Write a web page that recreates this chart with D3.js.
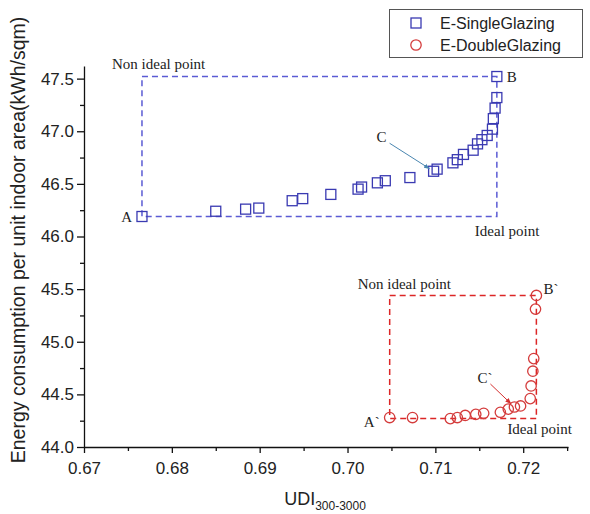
<!DOCTYPE html>
<html>
<head>
<meta charset="utf-8">
<script src="https://cdn.jsdelivr.net/npm/d3@7"></script>
<style>
  body { margin: 0; background: #fff; }
  svg { display: block; }
</style>
</head>
<body>
<svg id="chart" width="590" height="514"></svg>
<script>
// E-SingleGlazing pareto front
const singleUDI = [0.6766, 0.6850, 0.6884, 0.6899, 0.6937, 0.6949, 0.6981, 0.7012, 0.7016, 0.7034, 0.7043, 0.7071, 0.7098, 0.7102, 0.7120, 0.7125, 0.7132, 0.7143, 0.7148, 0.7153, 0.7159, 0.7165, 0.7166, 0.7168, 0.7170, 0.7170]
const singleEnergy = [46.19, 46.24, 46.26, 46.27, 46.34, 46.36, 46.40, 46.45, 46.47, 46.51, 46.53, 46.56, 46.62, 46.64, 46.70, 46.73, 46.78, 46.82, 46.88, 46.92, 46.96, 47.02, 47.12, 47.22, 47.32, 47.52]
// E-DoubleGlazing pareto front
const doubleUDI = [0.7048, 0.7074, 0.7117, 0.7125, 0.7134, 0.7146, 0.7155, 0.7174, 0.7183, 0.7190, 0.7197, 0.7208, 0.7209, 0.7211, 0.7212, 0.7214, 0.7215]
const doubleEnergy = [44.28, 44.28, 44.27, 44.28, 44.30, 44.31, 44.32, 44.33, 44.36, 44.38, 44.39, 44.46, 44.58, 44.72, 44.84, 45.31, 45.44]

const xTicks = [0.67, 0.68, 0.69, 0.70, 0.71, 0.72]
const xMinorTicks = [0.675, 0.685, 0.695, 0.705, 0.715, 0.725]
const yTicks = [44.0, 44.5, 45.0, 45.5, 46.0, 46.5, 47.0, 47.5]
const yMinorTicks = [44.25, 44.75, 45.25, 45.75, 46.25, 46.75, 47.25]

const seriesNames = ['E-SingleGlazing', 'E-DoubleGlazing']
const pointNames = [['A', 'B', 'C'], ['A`', 'B`', 'C`']]
const calloutIndex = [12, 9]

const xLabel = 'UDI'
const xLabelSub = '300-3000'
const yLabel = 'Energy consumption per unit indoor area(kWh/sqm)'

const markerColor = ['#3a3ab2', '#d43c3c']
const boxColor = ['#5b5bd4', '#dc2626']
const arrowColor = ['#4a86b0', '#d43030']
const serif = '"Liberation Serif", "Times New Roman", serif'
const sans = '"Liberation Sans", Arial, sans-serif'

const svg = d3.select('#chart')
const x = d3.scaleLinear().domain([0.67, 0.7251]).range([84, 568])
const y = d3.scaleLinear().domain([44, 47.62]).range([447, 66])

// axes
svg.append('g')
  .attr('transform', `translate(0,${y(44)})`)
  .call(d3.axisBottom(x).tickValues(xTicks).tickFormat(d3.format('.2f')).tickSize(6).tickSizeOuter(0).tickPadding(9))
svg.append('g')
  .attr('transform', `translate(0,${y(44)})`)
  .call(d3.axisBottom(x).tickValues(xMinorTicks).tickFormat('').tickSize(4).tickSizeOuter(0))
  .select('.domain').remove()
svg.append('g')
  .attr('transform', `translate(${x(0.67)},0)`)
  .call(d3.axisLeft(y).tickValues(yTicks).tickFormat(d3.format('.1f')).tickSize(7).tickSizeOuter(0).tickPadding(3))
svg.append('g')
  .attr('transform', `translate(${x(0.67)},0)`)
  .call(d3.axisLeft(y).tickValues(yMinorTicks).tickFormat('').tickSize(4).tickSizeOuter(0))
  .select('.domain').remove()
svg.selectAll('.tick text').style('font-family', sans).style('font-size', '17px').attr('fill', '#222')
svg.selectAll('.domain, .tick line').attr('stroke', '#111').attr('stroke-width', 1.3)

// axis titles
let xt = svg.append('text')
  .attr('x', 325).attr('y', 505)
  .attr('text-anchor', 'middle')
  .style('font-family', sans).style('font-size', '18px').attr('fill', '#222')
xt.append('tspan').text(xLabel)
xt.append('tspan').attr('dy', 5).style('font-size', '12px').text(xLabelSub)

svg.append('text')
  .attr('transform', 'translate(25,240) rotate(-90)')
  .attr('text-anchor', 'middle')
  .style('font-family', sans).style('font-size', '19.5px').attr('fill', '#222')
  .text(yLabel)

// arrow heads
let defs = svg.append('defs')
arrowColor.forEach((c, i) => {
  defs.append('marker')
    .attr('id', `arrow${i}`)
    .attr('viewBox', '0 0 10 10')
    .attr('refX', 9).attr('refY', 5)
    .attr('markerWidth', 6).attr('markerHeight', 6)
    .attr('orient', 'auto')
    .append('path')
    .attr('d', 'M0,1L10,5L0,9Z')
    .attr('fill', c)
})

let series = [
  {xs: singleUDI, ys: singleEnergy},
  {xs: doubleUDI, ys: doubleEnergy}
]
// label placement (pixels) per series
let offsets = [
  {non: [-30, -8], ideal: [-22, 19], a: [-10, 5], b: [10, 5], c: [-57, -29]},
  {non: [-32, -6], ideal: [-29, 15], a: [-10, 9], b: [7, -1], c: [-37, -24]}
]

series.forEach((s, i) => {
  let data = s.xs.map((v, k) => ({u: v, e: s.ys[k]}))
  let x0 = x(d3.min(s.xs)), x1 = x(d3.max(s.xs))
  let y0 = y(d3.min(s.ys)), y1 = y(d3.max(s.ys))
  let off = offsets[i]
  let g = svg.append('g')

  // dashed trade-off box
  g.append('rect')
    .attr('x', x0).attr('y', y1)
    .attr('width', x1 - x0).attr('height', y0 - y1)
    .attr('fill', 'none')
    .attr('stroke', boxColor[i])
    .attr('stroke-width', 1.5)
    .attr('stroke-dasharray', '6,4')

  // points
  if (i === 0) {
    g.selectAll('rect.pt').data(data).enter().append('rect')
      .classed('pt', true)
      .attr('x', d => x(d.u) - 5).attr('y', d => y(d.e) - 5)
      .attr('width', 10).attr('height', 10)
      .attr('fill', 'none').attr('stroke', markerColor[i]).attr('stroke-width', 1.3)
  } else {
    g.selectAll('circle').data(data).enter().append('circle')
      .attr('cx', d => x(d.u)).attr('cy', d => y(d.e)).attr('r', 5.2)
      .attr('fill', 'none').attr('stroke', markerColor[i]).attr('stroke-width', 1.3)
  }

  let label = (px, py, txt, anchor) => g.append('text')
    .attr('x', px).attr('y', py)
    .attr('text-anchor', anchor || 'start')
    .style('font-family', serif).style('font-size', '15px').attr('fill', '#222')
    .text(txt)

  let first = data[0], last = data[data.length - 1]
  label(x0 + off.non[0], y1 + off.non[1], 'Non ideal point')
  label(x1 + off.ideal[0], y0 + off.ideal[1], 'Ideal point')
  label(x(first.u) + off.a[0], y(first.e) + off.a[1], pointNames[i][0], 'end')
  label(x(last.u) + off.b[0], y(last.e) + off.b[1], pointNames[i][1])

  // callout with arrow
  let t = data[calloutIndex[i]]
  let tx = x(t.u), ty = y(t.e)
  let lx = tx + off.c[0], ly = ty + off.c[1]
  label(lx, ly, pointNames[i][2])
  let sx = lx + 13, sy = ly + 1
  let len = Math.hypot(tx - sx, ty - sy)
  let ex = tx - (tx - sx) / len * 5, ey = ty - (ty - sy) / len * 5
  g.append('line')
    .attr('x1', sx).attr('y1', sy).attr('x2', ex).attr('y2', ey)
    .attr('stroke', arrowColor[i]).attr('stroke-width', 1)
    .attr('marker-end', `url(#arrow${i})`)
})

// legend
let legend = svg.append('g')
legend.append('rect')
  .attr('x', 389.5).attr('y', 9.5).attr('width', 193).attr('height', 48)
  .attr('fill', '#fff').attr('stroke', '#555').attr('stroke-width', 1)
seriesNames.forEach((name, i) => {
  let cy = 23 + i * 22
  if (i === 0) {
    legend.append('rect').attr('x', 411).attr('y', cy - 5).attr('width', 10).attr('height', 10)
      .attr('fill', 'none').attr('stroke', markerColor[i]).attr('stroke-width', 1.3)
  } else {
    legend.append('circle').attr('cx', 416).attr('cy', cy).attr('r', 5.2)
      .attr('fill', 'none').attr('stroke', markerColor[i]).attr('stroke-width', 1.3)
  }
  legend.append('text')
    .attr('x', 440).attr('y', cy + 6)
    .style('font-family', sans).style('font-size', '16px').attr('fill', '#222')
    .text(name)
})
</script>
</body>
</html>
